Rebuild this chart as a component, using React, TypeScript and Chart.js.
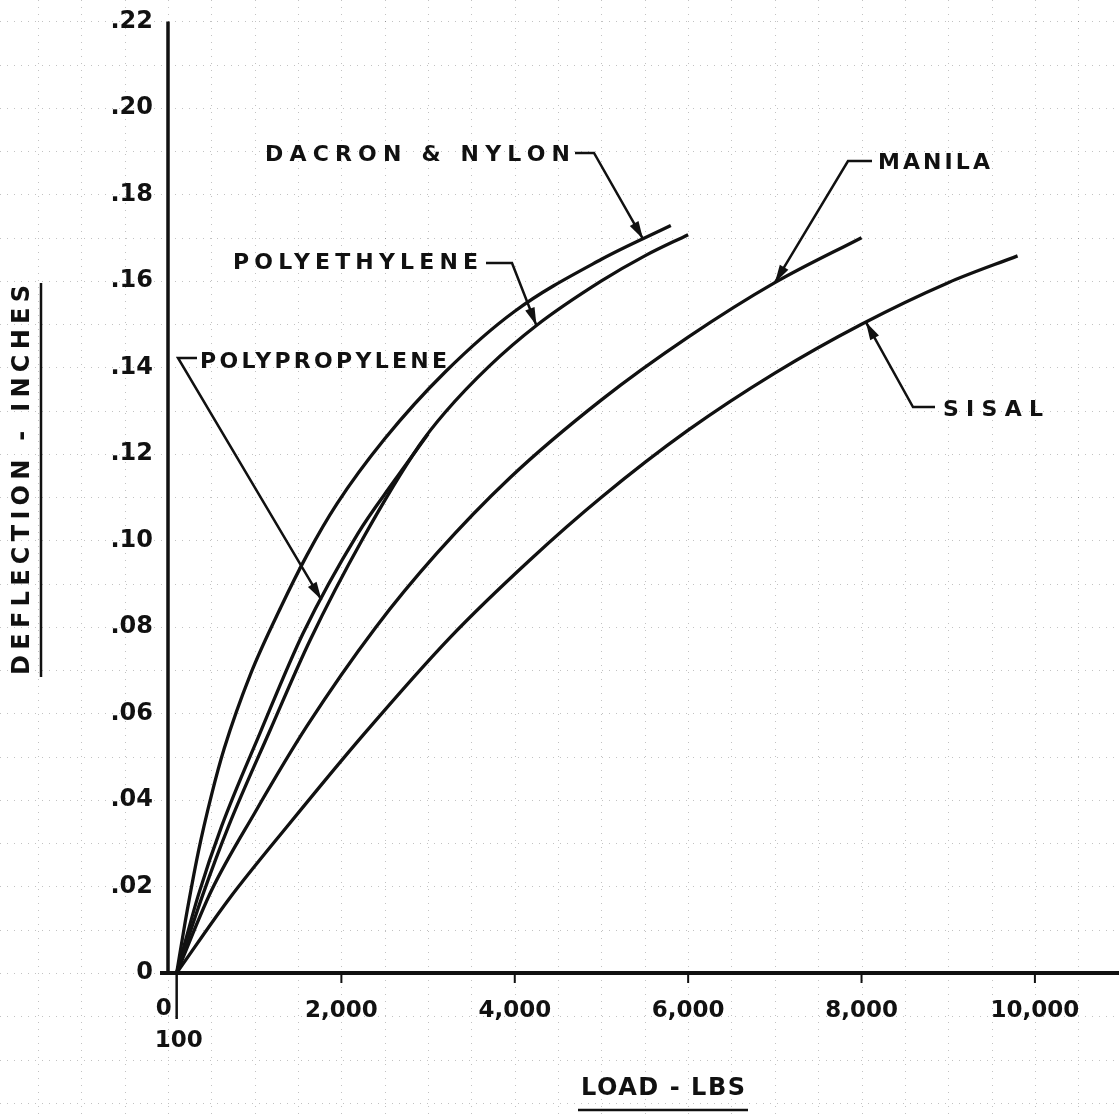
import React, { useEffect, useRef } from 'react';
import { Chart, registerables } from 'chart.js';

Chart.register(...registerables);

const W = 1119;
const H = 1116;

// ---- axis ticks ----
const yTickValues = [0, 0.02, 0.04, 0.06, 0.08, 0.1, 0.12, 0.14, 0.16, 0.18, 0.2, 0.22];
const yTickLabels = ['0', '.02', '.04', '.06', '.08', '.10', '.12', '.14', '.16', '.18', '.20', '.22'];
const xTickValues = [2000, 4000, 6000, 8000, 10000];
const xTickLabels = ['2,000', '4,000', '6,000', '8,000', '10,000'];
const xZeroLabel = '0';
const xStartValue = 100;
const xStartLabel = '100';

// ---- series (load in lbs, deflection in inches) ----
const dacronLoad = [100, 200, 350, 500, 650, 950, 1300, 1600, 1950, 2500, 3200, 4000, 5000, 5800];
const dacronDefl = [0, 0.012, 0.028, 0.041, 0.052, 0.069, 0.0845, 0.0965, 0.1085, 0.1235, 0.139, 0.153, 0.165, 0.1728];

const polyethyleneLoad = [100, 400, 700, 1175, 1640, 2250, 2900, 3200, 3700, 4250, 5000, 5500, 6000];
const polyethyleneDefl = [0, 0.018, 0.034, 0.056, 0.077, 0.1005, 0.122, 0.1297, 0.1402, 0.1497, 0.16, 0.1658, 0.1707];

const polypropyleneLoad = [100, 350, 620, 1060, 1557, 2190, 2600, 3000];
const polypropyleneDefl = [0, 0.018, 0.034, 0.0554, 0.0785, 0.1016, 0.1135, 0.1246];

const manilaLoad = [100, 500, 1000, 1600, 2400, 3100, 3945, 5000, 6000, 7000, 8000];
const manilaDefl = [0, 0.019, 0.037, 0.057, 0.08, 0.097, 0.1145, 0.1325, 0.147, 0.1596, 0.17];

const sisalLoad = [100, 700, 1400, 2250, 3250, 4175, 5000, 6000, 7000, 8000, 9000, 9800];
const sisalDefl = [0, 0.017, 0.0345, 0.055, 0.0775, 0.0955, 0.11, 0.1255, 0.1387, 0.15, 0.1596, 0.1658];

const seriesNames = ['DACRON & NYLON', 'POLYETHYLENE', 'POLYPROPYLENE', 'MANILA', 'SISAL'];
const seriesLoads = [dacronLoad, polyethyleneLoad, polypropyleneLoad, manilaLoad, sisalLoad];
const seriesDefls = [dacronDefl, polyethyleneDefl, polypropyleneDefl, manilaDefl, sisalDefl];

// load at which each label's arrow touches its curve
const arrowLoads = [5480, 4250, 1770, 7000, 8050];

const yTitle = 'DEFLECTION - INCHES';
const xTitle = 'LOAD - LBS';

// ---- layout (pixels) ----
const PLOT_LEFT = 168;
const PLOT_TOP = 20;
const PLOT_BOTTOM = 973;
const X_MAX = 10970;
const INK = '#111111';
const FONT = '"DejaVu Sans", "Liberation Sans", sans-serif';

const noteLayout = [
  { x0: 265, w: 305, y: 155, elbow: [[575, 153], [594, 153]] },
  { x0: 233, w: 245, y: 263, elbow: [[486, 263], [512, 263]] },
  { x0: 200, w: 247, y: 362, elbow: [[197, 358], [178, 358]] },
  { x0: 878, w: 112, y: 163, elbow: [[872, 161], [848, 161]] },
  { x0: 943, w: 100, y: 410, elbow: [[935, 407], [913, 407]] },
];

function interp(xs: number[], ys: number[], x: number) {
  for (let i = 0; i < xs.length - 1; i++) {
    if (x >= xs[i] && x <= xs[i + 1]) {
      const t = (x - xs[i]) / (xs[i + 1] - xs[i]);
      return ys[i] + t * (ys[i + 1] - ys[i]);
    }
  }
  return ys[ys.length - 1];
}

function spacedText(ctx: CanvasRenderingContext2D, text: string, x0: number, y: number, width: number) {
  (ctx as any).letterSpacing = '0px';
  const w = ctx.measureText(text).width;
  const n = text.length;
  const ls = n > 1 ? (width - w) / (n - 1) : 0;
  (ctx as any).letterSpacing = `${ls}px`;
  ctx.textAlign = 'left';
  ctx.textBaseline = 'middle';
  ctx.fillText(text, x0, y);
  (ctx as any).letterSpacing = '0px';
}

function arrowHead(ctx: CanvasRenderingContext2D, fx: number, fy: number, tx: number, ty: number) {
  const ang = Math.atan2(ty - fy, tx - fx);
  const len = 18;
  const hw = 5;
  const bx = tx - len * Math.cos(ang);
  const by = ty - len * Math.sin(ang);
  ctx.beginPath();
  ctx.moveTo(tx, ty);
  ctx.lineTo(bx + hw * Math.sin(ang), by - hw * Math.cos(ang));
  ctx.lineTo(bx - hw * Math.sin(ang), by + hw * Math.cos(ang));
  ctx.closePath();
  ctx.fill();
}

const drawPlugin = {
  id: 'paper',
  beforeDraw(chart: any) {
    const { ctx } = chart;
    const xs = chart.scales.x;
    const ys = chart.scales.y;
    ctx.save();
    ctx.fillStyle = '#ffffff';
    ctx.fillRect(0, 0, chart.width, chart.height);
    // faint graph-paper grid
    ctx.strokeStyle = 'rgba(0,0,0,0.24)';
    ctx.lineWidth = 1;
    ctx.setLineDash([1, 6]);
    for (let v = -2000; v <= 12000; v += 500) {
      const px = Math.round(xs.getPixelForValue(v)) + 0.5;
      if (px < 0 || px > chart.width) continue;
      ctx.beginPath();
      ctx.moveTo(px, 0);
      ctx.lineTo(px, chart.height);
      ctx.stroke();
    }
    for (let k = -4; k <= 24; k++) {
      const py = Math.round(ys.getPixelForValue(k / 100)) + 0.5;
      if (py < 0 || py > chart.height) continue;
      ctx.beginPath();
      ctx.moveTo(0, py);
      ctx.lineTo(chart.width, py);
      ctx.stroke();
    }
    ctx.restore();
  },
  afterDraw(chart: any) {
    const { ctx } = chart;
    const xs = chart.scales.x;
    const ys = chart.scales.y;
    const x0 = xs.getPixelForValue(0);
    const y0 = ys.getPixelForValue(0);
    const yTop = ys.getPixelForValue(0.22);
    ctx.save();
    ctx.strokeStyle = INK;
    ctx.fillStyle = INK;
    ctx.setLineDash([]);
    ctx.lineCap = 'butt';
    // axes
    ctx.lineWidth = 3.5;
    ctx.beginPath();
    ctx.moveTo(x0, yTop);
    ctx.lineTo(x0, y0 + 1);
    ctx.stroke();
    ctx.lineWidth = 4;
    ctx.beginPath();
    ctx.moveTo(x0 - 8, y0);
    ctx.lineTo(chart.width, y0);
    ctx.stroke();
    // x tick marks
    ctx.lineWidth = 2;
    xTickValues.forEach((v) => {
      const px = xs.getPixelForValue(v);
      ctx.beginPath();
      ctx.moveTo(px, y0);
      ctx.lineTo(px, y0 + 10);
      ctx.stroke();
    });
    const p100 = xs.getPixelForValue(xStartValue);
    ctx.lineWidth = 2.5;
    ctx.beginPath();
    ctx.moveTo(p100, y0);
    ctx.lineTo(p100, y0 + 46);
    ctx.stroke();
    ctx.font = `bold 23px ${FONT}`;
    ctx.textBaseline = 'middle';
    ctx.textAlign = 'right';
    ctx.fillText(xZeroLabel, p100 - 5, y0 + 36);
    ctx.textAlign = 'center';
    ctx.fillText(xStartLabel, p100 + 2, y0 + 68);

    // axis titles
    ctx.font = `bold 24px ${FONT}`;
    ctx.save();
    ctx.translate(23, 675);
    ctx.rotate(-Math.PI / 2);
    spacedText(ctx, yTitle, 0, 0, 390);
    ctx.restore();
    ctx.lineWidth = 2.5;
    ctx.beginPath();
    ctx.moveTo(41, 283);
    ctx.lineTo(41, 677);
    ctx.stroke();

    ctx.font = `bold 24px ${FONT}`;
    spacedText(ctx, xTitle, 581, 1089, 164);
    ctx.beginPath();
    ctx.moveTo(578, 1110);
    ctx.lineTo(748, 1110);
    ctx.stroke();

    // curve labels with leaders
    ctx.font = `bold 22px ${FONT}`;
    seriesNames.forEach((name, i) => {
      const L = noteLayout[i];
      spacedText(ctx, name, L.x0, L.y, L.w);
      const load = arrowLoads[i];
      const tx = xs.getPixelForValue(load);
      const ty = ys.getPixelForValue(interp(seriesLoads[i], seriesDefls[i], load));
      const pts = [...L.elbow, [tx, ty]];
      ctx.lineWidth = 2.5;
      ctx.beginPath();
      ctx.moveTo(pts[0][0], pts[0][1]);
      for (let k = 1; k < pts.length; k++) ctx.lineTo(pts[k][0], pts[k][1]);
      ctx.stroke();
      const prev = pts[pts.length - 2];
      arrowHead(ctx, prev[0], prev[1], tx, ty);
    });
    ctx.restore();
  },
};

export default function App() {
  const ref = useRef<HTMLCanvasElement | null>(null);
  useEffect(() => {
    if (!ref.current) return;
    const datasets = seriesNames.map((name, i) => ({
      label: name,
      data: seriesLoads[i].map((x, k) => ({ x, y: seriesDefls[i][k] })),
      borderColor: INK,
      borderWidth: 3.3,
      pointRadius: 0,
      fill: false,
      cubicInterpolationMode: 'monotone' as const,
    }));
    const chart = new Chart(ref.current, {
      type: 'line',
      data: { datasets },
      plugins: [drawPlugin],
      options: {
        animation: false,
        responsive: false,
        devicePixelRatio: 1,
        layout: { padding: { top: PLOT_TOP, left: 0, right: 0, bottom: 0 } },
        plugins: { legend: { display: false }, tooltip: { enabled: false }, title: { display: false } },
        scales: {
          x: {
            type: 'linear',
            min: 0,
            max: X_MAX,
            grid: { display: false },
            border: { display: false },
            afterBuildTicks: (s: any) => {
              s.ticks = xTickValues.map((v) => ({ value: v }));
            },
            afterFit: (s: any) => {
              s.height = H - PLOT_BOTTOM;
            },
            ticks: {
              autoSkip: false,
              maxRotation: 0,
              padding: 16,
              color: INK,
              font: { family: FONT, size: 23, weight: 'bold' },
              callback: (v: any) => {
                const i = xTickValues.indexOf(Number(v));
                return i >= 0 ? xTickLabels[i] : '';
              },
            },
          },
          y: {
            type: 'linear',
            min: 0,
            max: 0.22,
            grid: { display: false },
            border: { display: false },
            afterBuildTicks: (s: any) => {
              s.ticks = yTickValues.map((v) => ({ value: v }));
            },
            afterFit: (s: any) => {
              s.width = PLOT_LEFT;
            },
            ticks: {
              autoSkip: false,
              padding: 7,
              color: INK,
              font: { family: FONT, size: 24, weight: 'bold' },
              callback: (v: any) => {
                const i = yTickValues.findIndex((t) => Math.abs(t - Number(v)) < 1e-6);
                return i >= 0 ? yTickLabels[i] : '';
              },
            },
          },
        },
      },
    } as any);
    return () => chart.destroy();
  }, []);
  return (
    <div style={{ position: 'fixed', left: 0, top: 0, width: W, height: H, background: '#fff' }}>
      <canvas ref={ref} width={W} height={H} style={{ display: 'block', width: W, height: H }} />
    </div>
  );
}
